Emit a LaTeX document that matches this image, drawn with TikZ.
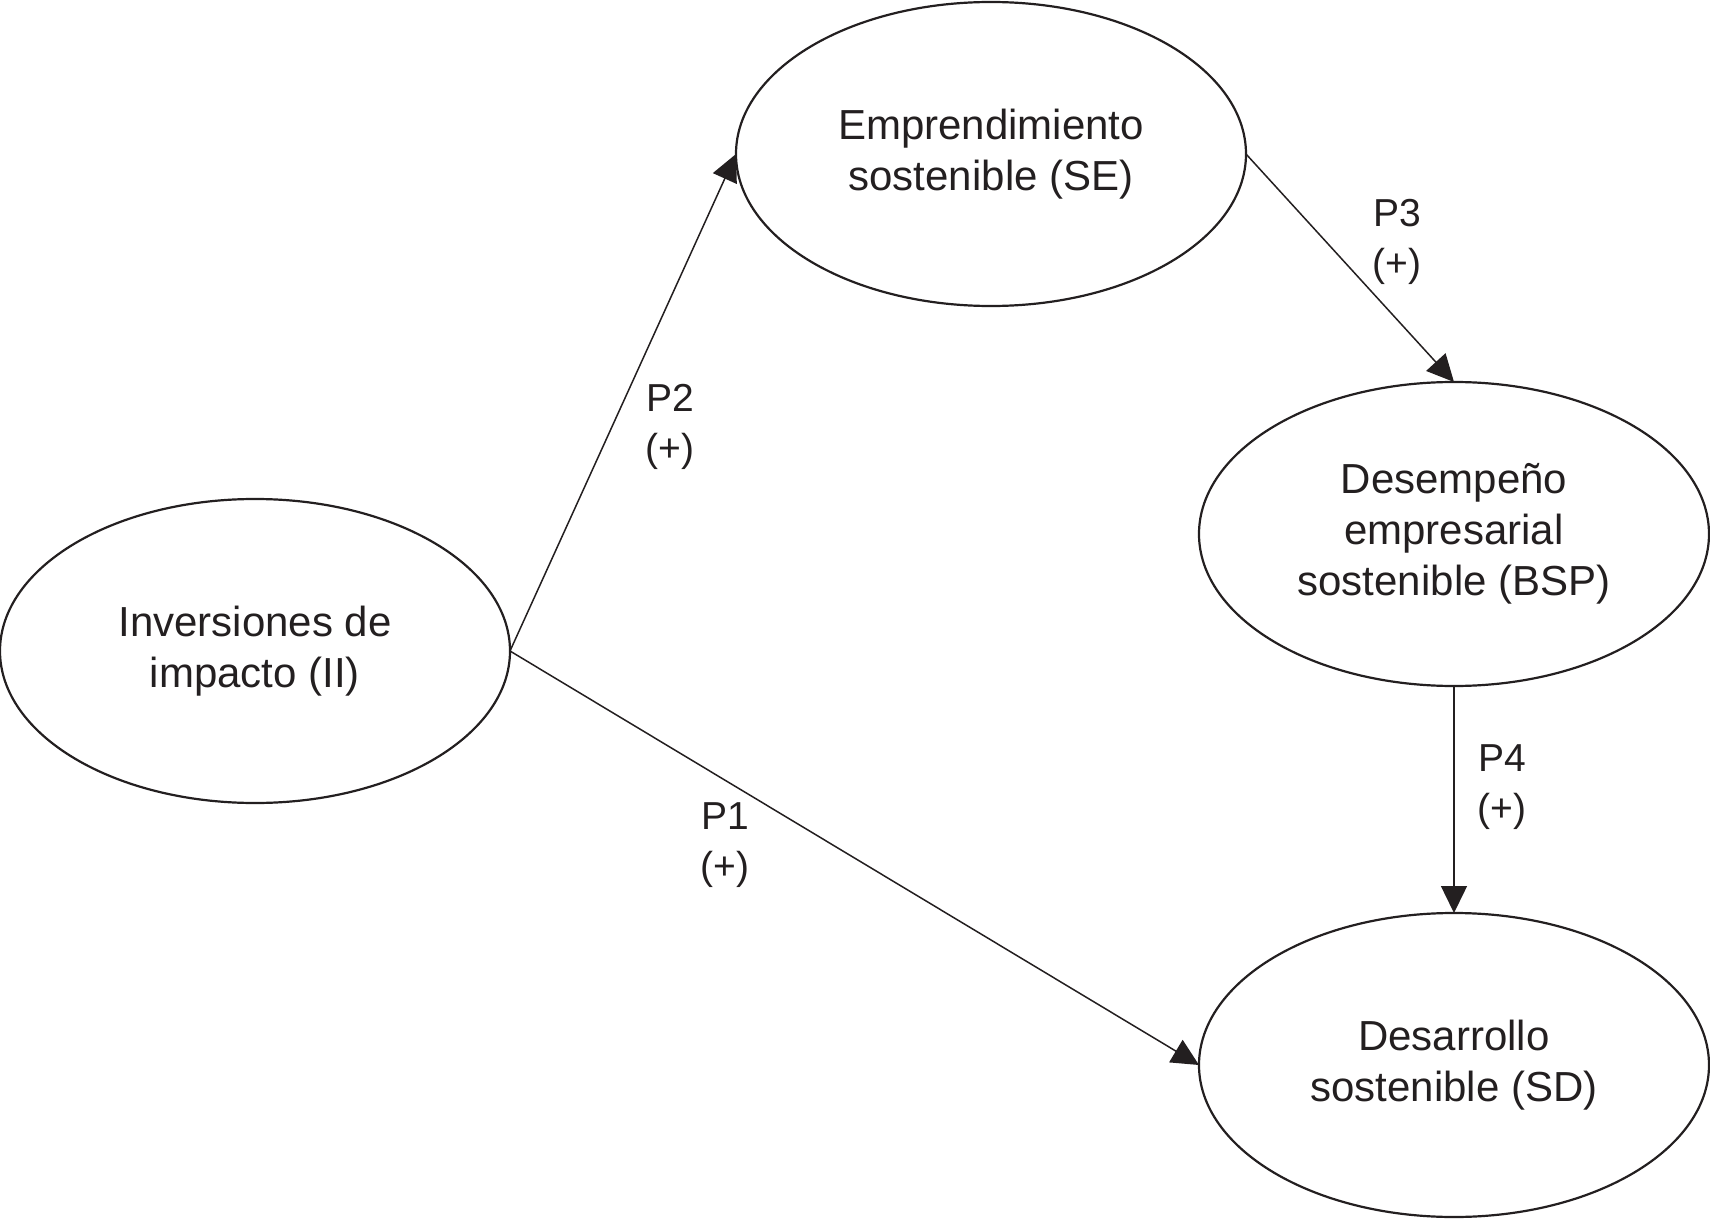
\documentclass[tikz,border=0pt]{standalone}
\usepackage{fontspec}
\setmainfont{Liberation Sans}
\usetikzlibrary{shapes.geometric,arrows.meta}
\definecolor{ink}{HTML}{231F20}
\begin{document}
\begin{tikzpicture}[x=0.5pt,y=-0.5pt,
  construct/.style={draw=ink, line width=1.1pt, ellipse, minimum width=255pt, minimum height=152pt,
    inner sep=0pt, outer sep=0pt, align=center, text=ink, font=\fontsize{21pt}{25.5pt}\selectfont},
  link/.style={draw=ink, line width=0.75pt, -{Triangle[length=13.5pt,width=13pt]}},
  plabel/.style={align=center, text=ink, inner sep=0pt, font=\fontsize{19.5pt}{25pt}\selectfont}]
\useasboundingbox (0,0) rectangle (1710,1220);
\node[construct] (II) at (255,651) {Inversiones de\\impacto (II)};
\node[construct] (SE) at (991,154) {Emprendimiento\\sostenible (SE)};
\node[construct] (BSP) at (1454,534) {Desempeño\\empresarial\\sostenible (BSP)};
\node[construct] (SD) at (1454,1065) {Desarrollo\\sostenible (SD)};
\draw[link] (II.east) -- (SE.west);
\draw[link] (II.east) -- (SD.west);
\draw[link] (SE.east) -- (BSP.north);
\draw[link] (BSP.south) -- (SD.north);
\node[plabel] (p2) at (670,427) {P2\\(+)};
\node[plabel] (p1) at (725,845) {P1\\(+)};
\node[plabel] (p3) at (1397,242) {P3\\(+)};
\node[plabel] (p4) at (1502,787) {P4\\(+)};
\end{tikzpicture}
\end{document}
